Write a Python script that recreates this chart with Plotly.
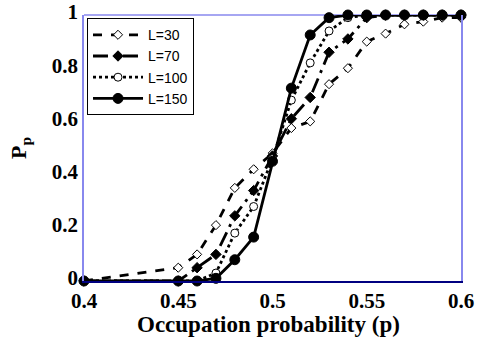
import plotly.graph_objects as go

p = [0.40, 0.45, 0.46, 0.47, 0.48, 0.49, 0.50, 0.51, 0.52, 0.53, 0.54, 0.55, 0.56, 0.57, 0.58, 0.59, 0.60]
pp_L30 = [0.0, 0.05, 0.10, 0.21, 0.35, 0.42, 0.48, 0.575, 0.60, 0.74, 0.80, 0.90, 0.93, 0.965, 0.975, 0.99, 0.99]
pp_L70 = [0.0, 0.0, 0.05, 0.10, 0.245, 0.34, 0.47, 0.61, 0.69, 0.86, 0.91, 0.99, 1.0, 1.0, 1.0, 1.0, 1.0]
pp_L100 = [0.0, 0.0, 0.0, 0.03, 0.18, 0.28, 0.46, 0.68, 0.82, 0.94, 0.99, 1.0, 1.0, 1.0, 1.0, 1.0, 1.0]
pp_L150 = [0.0, 0.0, 0.0, 0.01, 0.08, 0.165, 0.45, 0.725, 0.925, 0.99, 1.0, 1.0, 1.0, 1.0, 1.0, 1.0, 1.0]
labels = ["L=30", "L=70", "L=100", "L=150"]
xticks = [0.4, 0.45, 0.5, 0.55, 0.6]
xticklabels = ["0.4", "0.45", "0.5", "0.55", "0.6"]
yticks = [0, 0.2, 0.4, 0.6, 0.8, 1]
yticklabels = ["0", "0.2", "0.4", "0.6", "0.8", "1"]
xtitle = "Occupation probability (p)"
ytitle = "P<sub>p</sub>"

series = [pp_L30, pp_L70, pp_L100, pp_L150]
dashes = ["dash", "longdashdot", "dot", "solid"]
symbols = ["diamond", "diamond", "circle", "circle"]
fills = ["white", "black", "white", "black"]
sizes = [7, 8, 8, 10]

fig = go.Figure()
for ys, lab, d, s, fc, sz in zip(series, labels, dashes, symbols, fills, sizes):
    fig.add_trace(go.Scatter(
        x=p, y=ys, name=lab, mode="lines+markers",
        line=dict(color="black", width=2.8, dash=d),
        marker=dict(symbol=s, size=sz, color=fc, line=dict(color="black", width=1)),
        cliponaxis=False,
    ))

serif = "Liberation Serif, Times New Roman, serif"
tickfont = dict(family=serif, size=21, color="black")
fig.update_layout(
    width=479, height=340,
    margin=dict(l=84, r=18, t=15, b=59, autoexpand=False),
    plot_bgcolor="white", paper_bgcolor="white",
    showlegend=True,
    legend=dict(x=0.008, y=0.988, xanchor="left", yanchor="top",
                bgcolor="white", bordercolor="black", borderwidth=1,
                font=dict(family="Liberation Sans, Arial, sans-serif", size=14, color="black"),
                tracegroupgap=0, itemwidth=50),
    xaxis=dict(range=[0.4, 0.6], tickvals=xticks,
               ticktext=["<b>%s</b>" % t for t in xticklabels],
               showgrid=False, zeroline=False, showline=True, linecolor="#000080", linewidth=1.5,
               ticks="", ticklen=0, tickfont=tickfont, automargin=False),
    yaxis=dict(range=[0, 1], tickvals=yticks,
               ticktext=["<b>%s</b>" % t for t in yticklabels],
               showgrid=False, zeroline=False, showline=True, mirror=True,
               linecolor="#8888ee", linewidth=1.5,
               ticks="", ticklen=0, tickfont=tickfont, automargin=False,
               ticklabelshift=-3),
    shapes=[dict(type="line", xref="x domain", yref="y domain", x0=0, x1=1, y0=1, y1=1,
                 line=dict(color="#8888ee", width=1.5), layer="below")],
    annotations=[
        dict(text="<b>%s</b>" % xtitle, xref="paper", yref="paper", x=0.49, y=0,
             xanchor="center", yanchor="middle", yshift=-43, showarrow=False,
             font=dict(family=serif, size=23, color="black")),
        dict(text="<b>%s</b>" % ytitle, xref="paper", yref="paper", x=0, y=0.5,
             xanchor="center", yanchor="middle", xshift=-64, showarrow=False, textangle=-90,
             font=dict(family=serif, size=22, color="black")),
    ],
)

fig.write_html("out.html")
